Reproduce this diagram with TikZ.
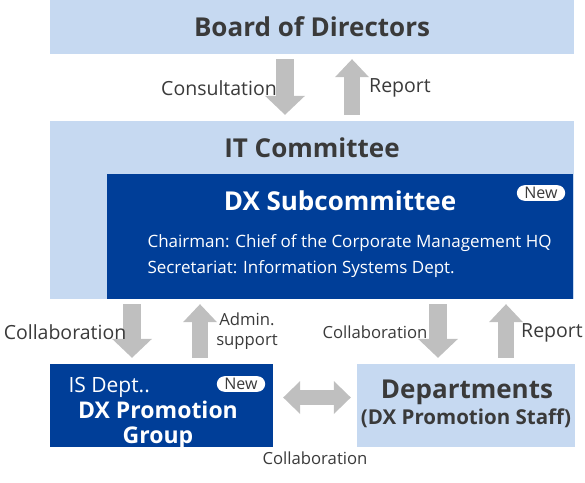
\documentclass[tikz,border=0pt]{standalone}
\usepackage{fontspec}
\setmainfont{Open Sans}
\usetikzlibrary{arrows.meta,shapes.misc}
\definecolor{paleblue}{HTML}{C6D9F1}
\definecolor{deepblue}{HTML}{003E98}
\definecolor{arrowgray}{HTML}{BFBFBF}
\definecolor{inkgray}{HTML}{3A3A3A}
\begin{document}
\begin{tikzpicture}[x=1pt,y=-1pt,text=inkgray,
  pale/.style={fill=paleblue,inner sep=0pt},
  deep/.style={fill=deepblue,inner sep=0pt},
  big/.style={font=\fontsize{26}{30}\selectfont\bfseries},
  mid/.style={font=\fontsize{19.5}{25}\selectfont},
  small/.style={font=\fontsize{16.7}{20}\selectfont},
  newtag/.style={rounded rectangle,fill=white,text=inkgray,inner xsep=5pt,inner ysep=2pt,font=\fontsize{16}{17}\selectfont},
  downfat/.style={draw=arrowgray,line width=18pt,-{Triangle[width=40pt,length=19pt,line width=0pt]},shorten <=5pt,shorten >=6pt},
  upfat/.style={draw=arrowgray,line width=16pt,-{Triangle[width=34pt,length=18pt,line width=0pt]},shorten <=6pt,shorten >=5pt},
  twofat/.style={draw=arrowgray,line width=15pt,{Triangle[width=33pt,length=17pt,line width=0pt]}-{Triangle[width=33pt,length=17pt,line width=0pt]},shorten <=10pt,shorten >=6pt}]
\useasboundingbox (0,0) rectangle (585,482);
% boxes
\node[pale,minimum width=524pt,minimum height=54pt,big] (board) at (312,27) {Board of Directors};
\node[pale,minimum width=524pt,minimum height=178pt] (itc) at (312,210) {};
\node[big] (itctitle) at (312,148) {IT Committee};
\node[deep,minimum width=466pt,minimum height=125pt] (dxsub) at (340,236.5) {};
\node[big,text=white] (dxtitle) at (340,201) {DX Subcommittee};
\node[newtag] (newa) at (541,193) {New};
\node[font=\fontsize{17}{25.5}\selectfont,text=white,anchor=west,align=left] (dxmembers) at (144,256) {Chairman: Chief of the Corporate Management HQ\\Secretariat: Information Systems Dept.};
\node[deep,minimum width=223pt,minimum height=83pt] (isdept) at (161.5,405.5) {};
\node[font=\fontsize{21}{24}\selectfont,text=white,anchor=west] (isname) at (65,387) {IS Dept..};
\node[text=white,align=center,font=\fontsize{23}{25}\selectfont\bfseries] (dxgroup) at (158,425.5) {DX Promotion\\Group};
\node[newtag] (newb) at (241,384) {New};
\node[pale,minimum width=218pt,minimum height=83pt] (dept) at (466,405.5) {};
\node[big] (deptname) at (467,392) {Departments};
\node[font=\fontsize{20.5}{24}\selectfont\bfseries] (deptstaff) at (466,418) {(DX Promotion Staff)};
% arrows
\draw[downfat] (board.south -| 285,0) -- (itc.north -| 285,0);
\draw[upfat] (itc.north -| 352,0) -- (board.south -| 352,0);
\draw[downfat] (dxsub.south -| 132,0) -- (isdept.north -| 132,0);
\draw[upfat] (isdept.north -| 200,0) -- (dxsub.south -| 200,0);
\draw[downfat] (dxsub.south -| 438,0) -- (dept.north -| 438,0);
\draw[upfat] (dept.north -| 506,0) -- (dxsub.south -| 506,0);
\draw[twofat] ([yshift=8pt]isdept.east) -- ([yshift=8pt]dept.west);
% labels
\node[mid] (consult) at (219,88) {Consultation};
\node[mid] (reporta) at (400,88) {Report};
\node[mid] (collabl) at (65,332) {Collaboration};
\node[small,align=center] (admin) at (247,331) {Admin.\\support};
\node[small] (collabm) at (375,332) {Collaboration};
\node[mid] (reportb) at (552,333) {Report};
\node[small] (collabb) at (315,458) {Collaboration};
\end{tikzpicture}
\end{document}
